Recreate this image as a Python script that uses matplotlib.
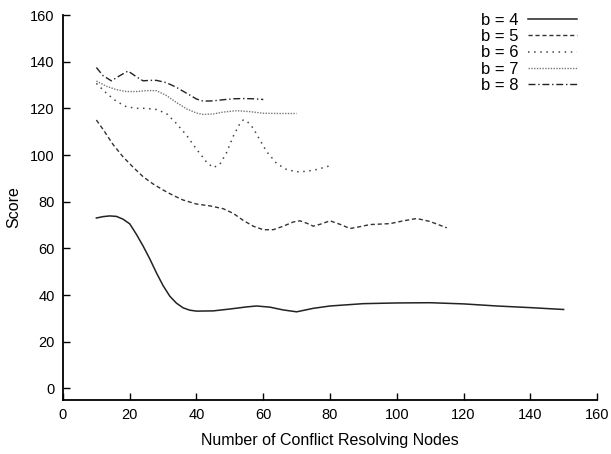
import matplotlib
matplotlib.use("Agg")
import matplotlib.pyplot as plt

plt.rcParams['font.family'] = ['Liberation Sans', 'DejaVu Sans']

# b = 4
x4 = [10, 12, 14, 16, 18, 20, 22, 24, 26, 28, 30, 32, 34, 36, 38, 40, 45, 50, 55, 58,
      62, 66, 70, 75, 80, 90, 100, 110, 120, 130, 140, 150]
y4 = [73.0, 73.6, 73.9, 73.7, 72.5, 70.5, 66, 61, 55.5, 49.5, 44, 39.5, 36.5, 34.5, 33.5, 33.1, 33.2, 34.0, 34.9, 35.3,
      34.8, 33.6, 32.8, 34.3, 35.3, 36.3, 36.6, 36.7, 36.2, 35.3, 34.6, 33.8]

# b = 5
x5 = [10, 12, 15, 18, 21, 24, 27, 30, 33, 36, 40, 44, 48, 51, 54, 57, 60, 63, 66, 69, 71, 73,
      75, 77, 80, 83, 86, 89, 92, 95, 98, 102, 106, 110, 115]
y5 = [115, 111, 104.5, 99.2, 94.8, 90.7, 87.6, 85, 82.7, 80.7, 79, 78.2, 77, 75, 72, 69.5, 68, 68, 69.5, 71.3, 71.8, 70.8,
      69.5, 70.3, 71.8, 70.3, 68.5, 69.3, 70.2, 70.4, 70.6, 71.8, 72.8, 71.5, 68.8]

# b = 6
x6 = [10, 13, 16, 19, 22, 25, 28, 31, 34, 37, 40, 43, 45, 47, 49, 51, 53, 54, 55, 57, 59, 61,
      64, 67, 70, 73, 76, 80]
y6 = [130.7, 126.5, 123, 120.7, 120, 120, 119.5, 117.8, 113.5, 108.5, 102.5, 97, 94.6, 96, 101, 108, 113.5, 115, 114.7, 111.5, 106.4, 101.5,
      96.4, 93.8, 92.8, 93, 93.8, 95.4]

# b = 7
x7 = [10, 13, 16, 19, 22, 25, 28, 31, 34, 37, 40, 42, 45, 48, 52, 56, 60, 65, 70]
y7 = [131.7, 129.5, 128, 127.2, 127.2, 127.6, 127.6, 125.5, 122.5, 119.8, 118, 117.4, 117.6, 118.4, 119, 118.6, 117.9, 117.8, 117.8]

# b = 8
x8 = [10, 12, 14.5, 17, 19.5, 22, 24, 26, 28, 31, 34, 37, 40, 42, 45, 48, 51, 54, 57, 60]
y8 = [137.5, 134, 131.8, 134, 136, 133.5, 131.8, 132, 132, 131, 129, 126.5, 124, 123.1, 123.2, 123.7, 124.1, 124.2, 124.1, 123.8]

labels = ["b = 4", "b = 5", "b = 6", "b = 7", "b = 8"]

fig = plt.figure(figsize=(6.11, 4.54), dpi=100)
ax = fig.add_axes([0.1031, 0.1189, 0.874, 0.848])

ax.plot(x4, y4, color="#222222", lw=1.1, ls="-", label=labels[0])
ax.plot(x5, y5, color="#333333", lw=1.0, ls=(0, (3, 2)), label=labels[1])
ax.plot(x6, y6, color="#444444", lw=1.1, ls=(0, (1, 3)), label=labels[2])
ax.plot(x7, y7, color="#777777", lw=1.0, ls=(0, (1, 1)), label=labels[3])
ax.plot(x8, y8, color="#222222", lw=1.0, ls=(0, (5, 2, 1, 2)), label=labels[4])

ax.set_xlim(0, 160)
ax.set_ylim(-5, 160)
ax.set_xticks(range(0, 161, 20))
ax.set_yticks(range(0, 161, 20))
ax.spines['top'].set_visible(False)
ax.spines['right'].set_visible(False)
ax.spines['left'].set_linewidth(1.3)
ax.spines['bottom'].set_linewidth(1.3)
ax.tick_params(direction="in", length=5, width=1, labelsize=10.5, pad=6)

ax.set_xlabel("Number of Conflict Resolving Nodes", fontsize=11.5, labelpad=8)
ax.set_ylabel("Score", fontsize=11.5, labelpad=6)

ax.legend(loc="upper right", bbox_to_anchor=(0.99, 1.045), frameon=False, markerfirst=False,
          fontsize=12, handlelength=2.9, labelspacing=0.08, handletextpad=0.6)

fig.savefig("out.png", dpi=100)
